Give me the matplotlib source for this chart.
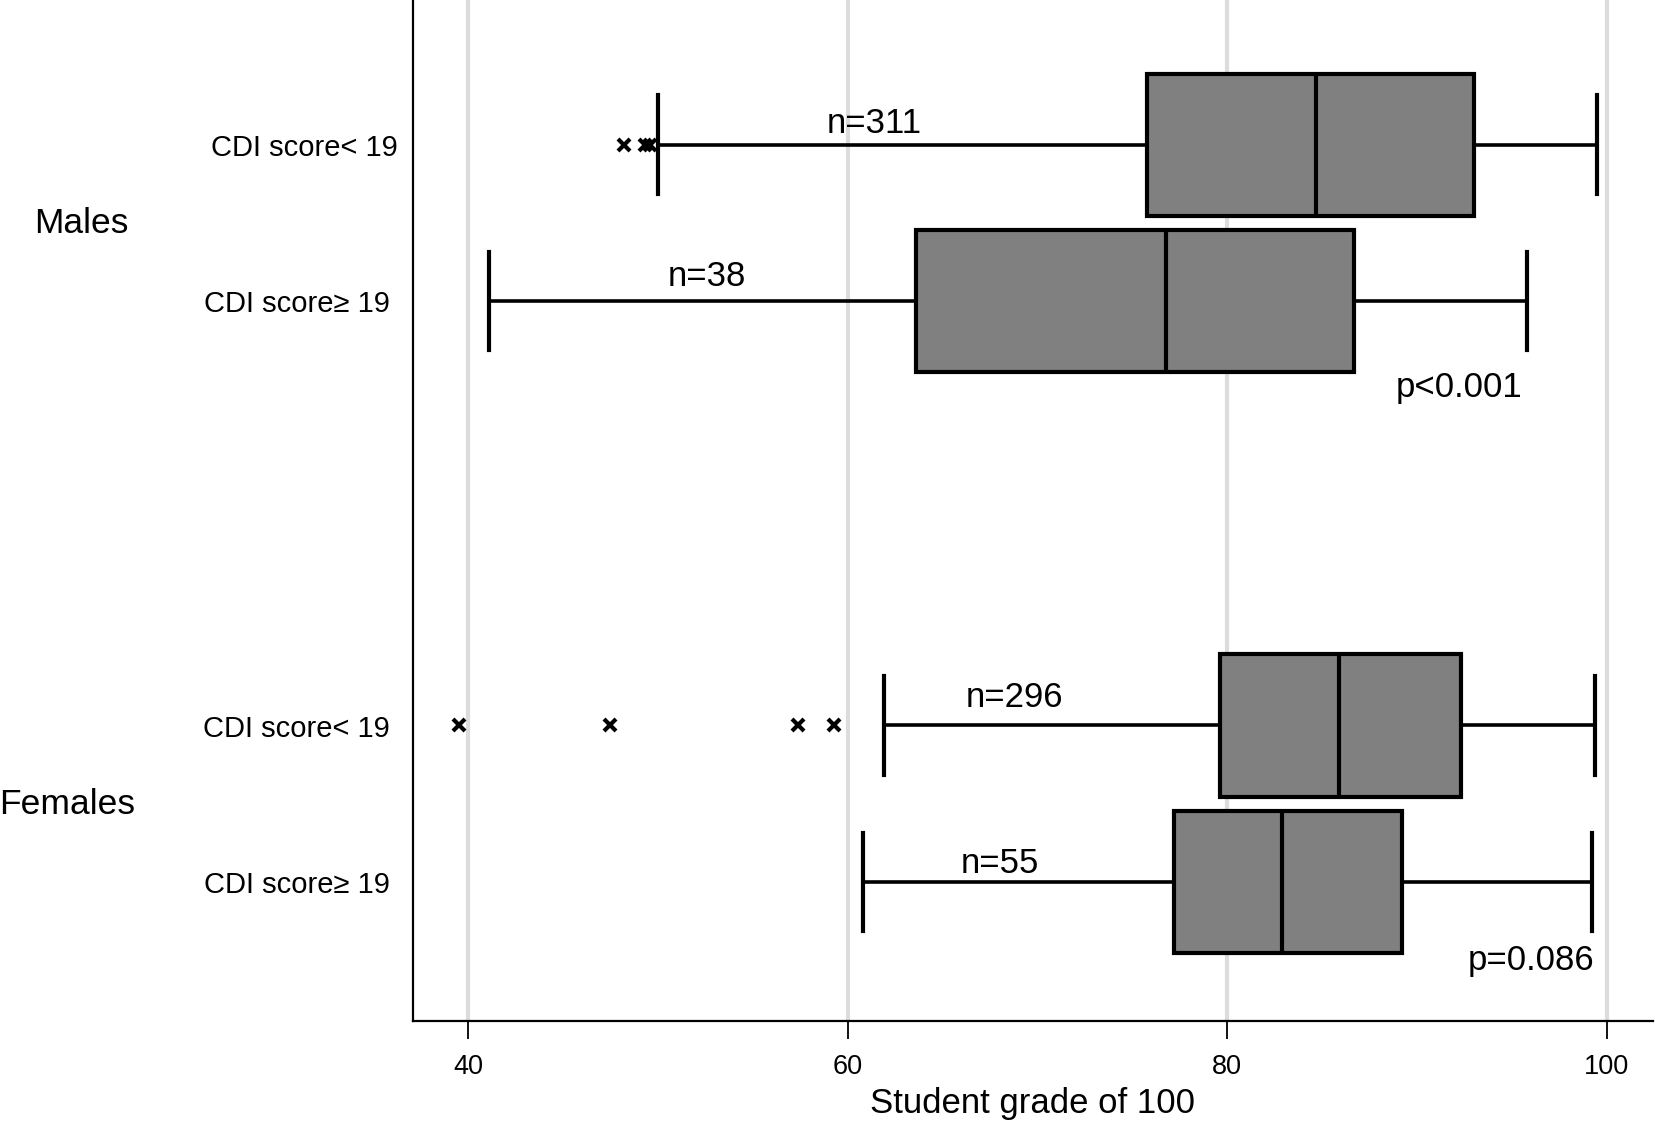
import numpy as np
import matplotlib.pyplot as plt

plt.rcParams['font.family'] = ['Liberation Sans', 'DejaVu Sans']

# group / row labels (top to bottom)
groups = ['Males', 'Females']
row_labels = ['CDI score< 19', 'CDI score\u2265 19', 'CDI score< 19', 'CDI score\u2265 19']
row_pos = [0.0, 1.0, 3.716, 4.716]

# five-number summaries
whislo = [50.0, 41.1, 61.9, 60.8]
q1 = [75.8, 63.6, 79.6, 77.2]
med = [84.7, 76.8, 85.9, 82.9]
q3 = [93.0, 86.7, 92.3, 89.2]
whishi = [99.5, 95.8, 99.4, 99.2]
fliers = [[48.2, 49.3, 49.6], [], [39.5, 47.5, 57.4, 59.3], []]

n_labels = ['n=311', 'n=38', 'n=296', 'n=55']
n_xy = [(61.4, -0.135), (52.6, 0.845), (68.8, 3.54), (68.0, 4.60)]
p_labels = ['p<0.001', 'p=0.086']
p_xy = [(92.2, 1.554), (96.0, 5.22)]

fig = plt.figure(figsize=(16.56, 11.24), dpi=100)
ax = fig.add_axes([0.2494, 0.0916, 0.7486, 0.9084])

for xv in [40, 60, 80, 100]:
    ax.axvline(xv, color='#dcdcdc', lw=3, zorder=0)

stats = []
for i in range(4):
    stats.append(dict(whislo=whislo[i], q1=q1[i], med=med[i], q3=q3[i],
                      whishi=whishi[i], fliers=fliers[i]))

ax.bxp(stats, positions=row_pos, vert=False, widths=0.91, capwidths=0.63,
       patch_artist=True, showfliers=True,
       boxprops=dict(facecolor='#808080', edgecolor='black', linewidth=3),
       medianprops=dict(color='black', linewidth=3),
       whiskerprops=dict(color='black', linewidth=2.6),
       capprops=dict(color='black', linewidth=3),
       flierprops=dict(marker='x', markersize=8, markeredgewidth=3,
                       markeredgecolor='black'))

ax.set_xlim(37.1, 102.42)
ax.set_ylim(5.607, -0.926)

ax.set_yticks([])
ax.set_xticks([40, 60, 80, 100])
ax.tick_params(axis='x', labelsize=19.5, length=13, width=1.3, pad=11)
ax.set_xlabel('Student grade of 100', fontsize=25, labelpad=5)

for s in ['top', 'right']:
    ax.spines[s].set_visible(False)
ax.spines['left'].set_linewidth(1.6)
ax.spines['bottom'].set_linewidth(1.6)

# row labels
label_x = [36.31, 35.87, 35.87, 35.87]
for lab, y, xx in zip(row_labels, row_pos, label_x):
    ax.text(xx, y + 0.02, lab, ha='right', va='center', fontsize=21, clip_on=False)

ax.text(19.6, 0.507, groups[0], ha='center', va='center', fontsize=25.5, clip_on=False)
ax.text(18.85, 4.22, groups[1], ha='center', va='center', fontsize=25.5, clip_on=False)

for lab, (xx, yy) in zip(n_labels, n_xy):
    ax.text(xx, yy, lab, ha='center', va='center', fontsize=25)
for lab, (xx, yy) in zip(p_labels, p_xy):
    ax.text(xx, yy, lab, ha='center', va='center', fontsize=25)

fig.savefig('out.png', dpi=100)
